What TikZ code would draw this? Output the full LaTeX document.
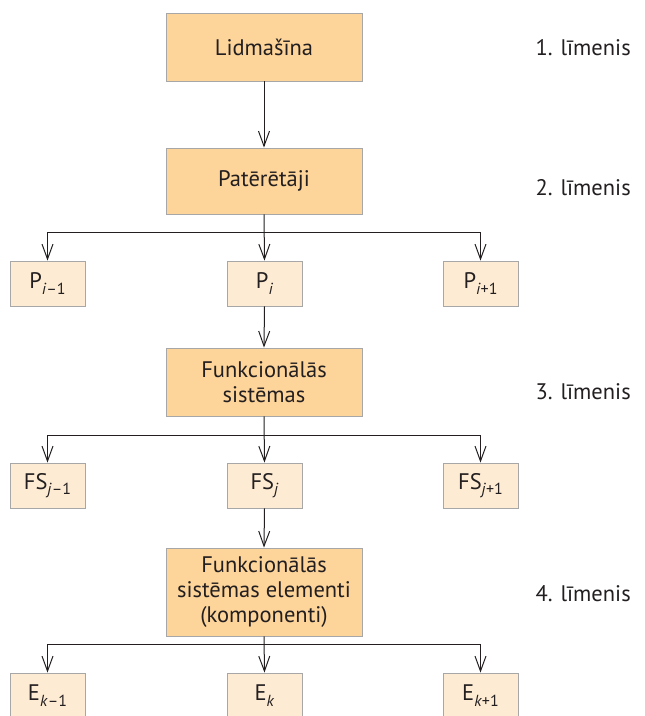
\documentclass[tikz,border=0pt]{standalone}
\usepackage{fontspec}
\setmainfont{PT Sans}
\usetikzlibrary{arrows.meta}
\definecolor{bigfill}{HTML}{FDD499}
\definecolor{smallfill}{HTML}{FDEBD3}
\definecolor{edge}{HTML}{A7A7A7}
\definecolor{ink}{HTML}{231F20}
\newcommand{\lowidx}[1]{\raisebox{-0.5ex}{\fontsize{16}{16}\selectfont #1}}
\begin{document}
\begin{tikzpicture}[x=1pt,y=-1pt,
  font=\fontsize{22.5}{25}\selectfont, text=ink,
  bigbox/.style={draw=edge, line width=0.9pt, fill=bigfill, minimum width=196pt, align=center, inner sep=2pt},
  smallbox/.style={draw=edge, line width=0.9pt, fill=smallfill, minimum width=75pt, minimum height=45pt, inner sep=2pt},
  level/.style={anchor=west},
  arr/.style={draw=ink, line width=1pt, -{Straight Barb[length=15pt,width=11pt,line width=1pt]}},
  ln/.style={draw=ink, line width=1pt}]
\useasboundingbox (0,0) rectangle (645,716);

% main chain of levels
\node[bigbox, minimum height=68pt] (b1) at (264,47) {Lidmašīna};
\node[bigbox, minimum height=66pt] (b2) at (264,181) {Patērētāji};
\node[bigbox, minimum height=68pt] (b3) at (264,382) {Funkcionālās\\sistēmas};
\node[bigbox, minimum height=88pt] (b4) at (264,592) {Funkcionālās\\sistēmas elementi\\(komponenti)};

% consumers
\node[smallbox] (pa) at (47.5,283.5) {P\lowidx{\textit{i}–1}};
\node[smallbox] (pb) at (264.5,283.5) {P\lowidx{\textit{i}}};
\node[smallbox] (pc) at (480.5,283.5) {P\lowidx{\textit{i}+1}};

% functional systems
\node[smallbox] (fa) at (47.5,485.5) {FS\lowidx{\textit{j}–1}};
\node[smallbox] (fb) at (264.5,485.5) {FS\lowidx{\textit{j}}};
\node[smallbox] (fc) at (480.5,485.5) {FS\lowidx{\textit{j}+1}};

% elements
\node[smallbox] (ea) at (47.5,695.5) {E\lowidx{\textit{k}–1}};
\node[smallbox] (eb) at (264.5,695.5) {E\lowidx{\textit{k}}};
\node[smallbox] (ec) at (480.5,695.5) {E\lowidx{\textit{k}+1}};

% level labels
\node[level] (l1) at (532,48) {1. līmenis};
\node[level] (l2) at (532,188) {2. līmenis};
\node[level] (l3) at (532,392) {3. līmenis};
\node[level] (l4) at (532,594) {4. līmenis};

% branching points
\coordinate (s2) at (264,232);
\coordinate (s3) at (264,435);
\coordinate (s4) at (264,644);

% connectors
\draw[arr] (b1.south) -- (b2.north);
\draw[arr] (b2.south) -- (pb.north);
\draw[arr] (s2) -| (pa.north);
\draw[arr] (s2) -| (pc.north);
\draw[arr] (pb.south) -- (b3.north);
\draw[arr] (b3.south) -- (fb.north);
\draw[arr] (s3) -| (fa.north);
\draw[arr] (s3) -| (fc.north);
\draw[arr] (fb.south) -- (b4.north);
\draw[arr] (b4.south) -- (eb.north);
\draw[arr] (s4) -| (ea.north);
\draw[arr] (s4) -| (ec.north);
\end{tikzpicture}
\end{document}
